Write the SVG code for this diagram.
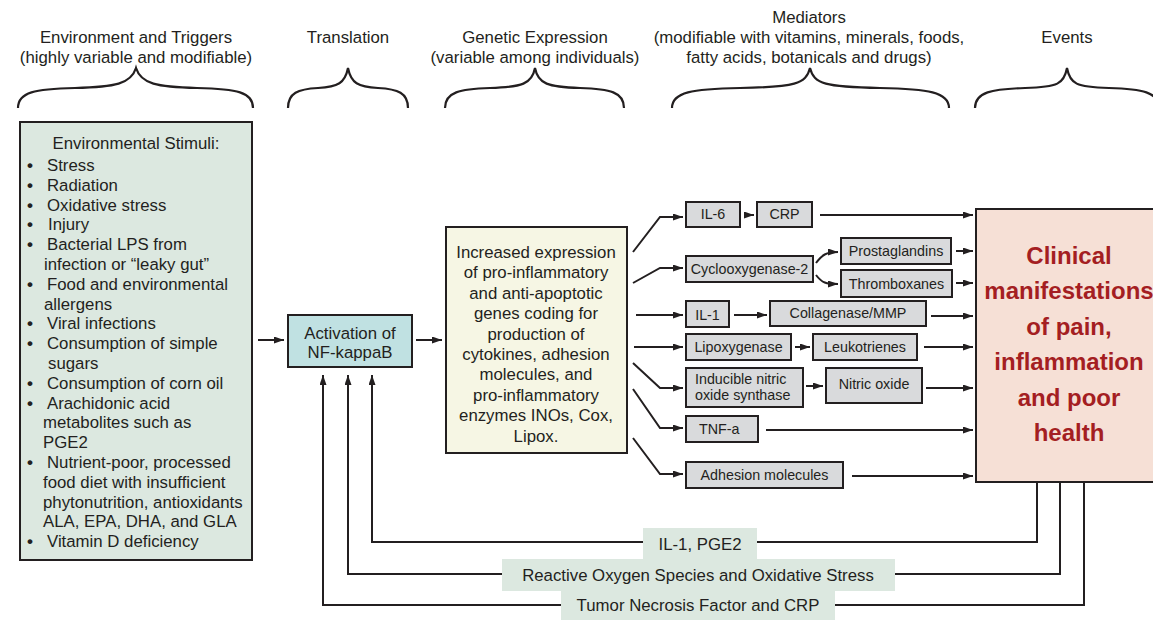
<svg xmlns="http://www.w3.org/2000/svg" width="1153" height="620" viewBox="0 0 1153 620">
<defs>
<style>
text{font-family:"Liberation Sans",Arial,sans-serif;fill:#231f20}
.h{font-size:16.8px;text-anchor:middle}
.t{font-size:16.8px}
.b{font-weight:bold;font-size:17px}
.c{font-size:16.8px;text-anchor:middle}
.m{font-size:14.3px}
.mc{font-size:14.3px;text-anchor:middle}
.red{font-size:24px;font-weight:bold;fill:#a41e22;text-anchor:middle}
.box{stroke:#231f20;stroke-width:2}
.med{fill:#d9dadc;stroke:#231f20;stroke-width:2}
.ln{fill:none;stroke:#231f20;stroke-width:2}
.br{fill:none;stroke:#231f20;stroke-width:2.2}
.lab{fill:#dce8e0}
</style>
<marker id="ah" viewBox="0 0 10 7" refX="10" refY="3.5" markerWidth="11" markerHeight="7" orient="auto" markerUnits="userSpaceOnUse"><path d="M0,0 L10,3.5 L0,7 z" fill="#231f20"/></marker>
</defs>

<g id="headers">
<text class="h" x="136" y="43">Environment and Triggers</text>
<text class="h" x="136" y="63">(highly variable and modifiable)</text>
<text class="h" x="348" y="43">Translation</text>
<text class="h" x="535" y="43">Genetic Expression</text>
<text class="h" x="535" y="63">(variable among individuals)</text>
<text class="h" x="809" y="23">Mediators</text>
<text class="h" x="809" y="43">(modifiable with vitamins, minerals, foods,</text>
<text class="h" x="809" y="63">fatty acids, botanicals and drugs)</text>
<text class="h" x="1067" y="43">Events</text>
</g>

<g id="braces">
<path class="br" d="M18,108 C18,92 35,89 75,88 C115,87 131,84 136,68 C141,84 157,87 197,88 C237,89 253,92 253,108"/>
<path class="br" d="M288,108 C288,93 298,89 318,88 C338,87 345,83 348,68 C351,83 358,87 378,88 C398,89 408,93 408,108"/>
<path class="br" d="M445,108 C445,92 460,89 490,88 C522,87 532,84 535,68 C538,84 548,87 580,88 C610,89 624,92 624,108"/>
<path class="br" d="M672,108 C672,92 692,89 740,88 C795,87 806,84 810,68 C814,84 825,87 880,88 C928,89 949,92 949,108"/>
<path class="br" d="M975,108 C975,92 992,89 1025,88 C1058,87 1064,84 1067,68 C1070,84 1076,87 1109,88 C1142,89 1159,92 1159,108"/>
</g>

<g id="env">
<rect class="box" x="20" y="122" width="232" height="438" fill="#dce8e0"/>
<text class="c" x="136" y="149">Environmental Stimuli:</text>
<g class="t">
<text class="b" x="27" y="171">•</text><text x="47" y="171">Stress</text>
<text class="b" x="27" y="190.8">•</text><text x="47" y="190.8">Radiation</text>
<text class="b" x="27" y="210.6">•</text><text x="47" y="210.6">Oxidative stress</text>
<text class="b" x="27" y="230.4">•</text><text x="48" y="230.4">Injury</text>
<text class="b" x="27" y="250.2">•</text><text x="47" y="250.2">Bacterial LPS from</text>
<text x="44" y="270">infection or “leaky gut”</text>
<text class="b" x="27" y="289.8">•</text><text x="47" y="289.8">Food and environmental</text>
<text x="44" y="309.6">allergens</text>
<text class="b" x="27" y="329.4">•</text><text x="47" y="329.4">Viral infections</text>
<text class="b" x="27" y="349.2">•</text><text x="47" y="349.2">Consumption of simple</text>
<text x="48" y="369">sugars</text>
<text class="b" x="27" y="388.8">•</text><text x="47" y="388.8">Consumption of corn oil</text>
<text class="b" x="27" y="408.6">•</text><text x="47" y="408.6">Arachidonic acid</text>
<text x="43" y="428.4">metabolites such as</text>
<text x="43" y="448.2">PGE2</text>
<text class="b" x="27" y="468">•</text><text x="47" y="468">Nutrient-poor, processed</text>
<text x="43" y="487.8">food diet with insufficient</text>
<text x="43" y="507.6">phytonutrition, antioxidants</text>
<text x="43" y="527.4">ALA, EPA, DHA, and GLA</text>
<text class="b" x="27" y="547.2">•</text><text x="47" y="547.2">Vitamin D deficiency</text>
</g>
</g>

<g id="nfkb">
<rect class="box" x="288" y="315" width="124" height="52" fill="#c0e1e2"/>
<text class="c" x="350" y="339">Activation of</text>
<text class="c" x="350" y="358">NF-kappaB</text>
</g>

<g id="genes">
<rect class="box" x="446" y="227" width="181" height="226" fill="#f6f6e4"/>
<text class="c" x="536" y="258">Increased expression</text>
<text class="c" x="536" y="278.4">of pro-inflammatory</text>
<text class="c" x="536" y="298.8">and anti-apoptotic</text>
<text class="c" x="536" y="319.2">genes coding for</text>
<text class="c" x="536" y="339.6">production of</text>
<text class="c" x="536" y="360">cytokines, adhesion</text>
<text class="c" x="536" y="380.4">molecules, and</text>
<text class="c" x="536" y="400.8">pro-inflammatory</text>
<text class="c" x="536" y="421.2">enzymes INOs, Cox,</text>
<text class="c" x="536" y="441.6">Lipox.</text>
</g>

<g id="il6"><rect class="med" x="686" y="202" width="54" height="25"/><text class="mc" x="713" y="219">IL-6</text></g>
<g id="crp"><rect class="med" x="757" y="202" width="55" height="25"/><text class="mc" x="784.5" y="219">CRP</text></g>
<g id="cox2"><rect class="med" x="686" y="256" width="127" height="26"/><text class="mc" x="749.5" y="274">Cyclooxygenase-2</text></g>
<g id="prost"><rect class="med" x="841" y="238" width="110" height="26"/><text class="mc" x="896" y="256">Prostaglandins</text></g>
<g id="thromb"><rect class="med" x="841" y="270" width="111" height="27"/><text class="mc" x="896.5" y="289">Thromboxanes</text></g>
<g id="il1"><rect class="med" x="686" y="301" width="43" height="26"/><text class="mc" x="707.5" y="320">IL-1</text></g>
<g id="collag"><rect class="med" x="770" y="301" width="156" height="25"/><text class="mc" x="848" y="318">Collagenase/MMP</text></g>
<g id="lipox"><rect class="med" x="686" y="334" width="105" height="26"/><text class="mc" x="738.5" y="352">Lipoxygenase</text></g>
<g id="leuko"><rect class="med" x="813" y="334" width="104" height="26"/><text class="mc" x="865" y="352">Leukotrienes</text></g>
<g id="inos"><rect class="med" x="686" y="368" width="117" height="39"/><text class="m" x="695" y="384">Inducible nitric</text><text class="m" x="695" y="400">oxide synthase</text></g>
<g id="no"><rect class="med" x="826" y="368" width="96" height="35"/><text class="mc" x="874" y="389">Nitric oxide</text></g>
<g id="tnfa"><rect class="med" x="686" y="416" width="72" height="26"/><text class="m" x="699" y="434">TNF-a</text></g>
<g id="adhesion"><rect class="med" x="686" y="462" width="157" height="26"/><text class="mc" x="764.5" y="480">Adhesion molecules</text></g>

<g id="clinical">
<rect class="box" x="976" y="209" width="200" height="273" fill="#f6e0d6"/>
<text class="red" x="1069" y="263.5">Clinical</text>
<text class="red" x="1069" y="299">manifestations</text>
<text class="red" x="1069" y="334.5">of pain,</text>
<text class="red" x="1069" y="370">inflammation</text>
<text class="red" x="1069" y="405.5">and poor</text>
<text class="red" x="1069" y="441">health</text>
</g>

<g id="connectors">
<line class="ln" x1="258" y1="340" x2="284" y2="340" marker-end="url(#ah)"/>
<line class="ln" x1="416" y1="340" x2="442" y2="340" marker-end="url(#ah)"/>
<polyline class="ln" points="633,252 660,217 683,217" marker-end="url(#ah)"/>
<polyline class="ln" points="633,283 660,268 683,268" marker-end="url(#ah)"/>
<line class="ln" x1="636" y1="315" x2="683" y2="315" marker-end="url(#ah)"/>
<line class="ln" x1="634" y1="347" x2="683" y2="347" marker-end="url(#ah)"/>
<polyline class="ln" points="633,363 660,388 683,388" marker-end="url(#ah)"/>
<polyline class="ln" points="633,389 660,428 683,428" marker-end="url(#ah)"/>
<polyline class="ln" points="633,438 660,474 683,474" marker-end="url(#ah)"/>
<line class="ln" x1="745" y1="215" x2="754" y2="215" marker-end="url(#ah)"/>
<line class="ln" x1="820" y1="215" x2="973" y2="215" marker-end="url(#ah)"/>
<path class="ln" d="M816,263 C822,255 826,252 838,252" marker-end="url(#ah)"/>
<path class="ln" d="M816,275 C822,283 826,284 838,284" marker-end="url(#ah)"/>
<line class="ln" x1="956" y1="251" x2="973" y2="251" marker-end="url(#ah)"/>
<line class="ln" x1="956" y1="283" x2="973" y2="283" marker-end="url(#ah)"/>
<line class="ln" x1="734" y1="315" x2="767" y2="315" marker-end="url(#ah)"/>
<line class="ln" x1="931" y1="316" x2="973" y2="316" marker-end="url(#ah)"/>
<line class="ln" x1="795" y1="347" x2="810" y2="347" marker-end="url(#ah)"/>
<line class="ln" x1="924" y1="347" x2="973" y2="347" marker-end="url(#ah)"/>
<line class="ln" x1="806" y1="386" x2="823" y2="386" marker-end="url(#ah)"/>
<line class="ln" x1="926" y1="388" x2="973" y2="388" marker-end="url(#ah)"/>
<line class="ln" x1="766" y1="430" x2="973" y2="430" marker-end="url(#ah)"/>
<line class="ln" x1="852" y1="476" x2="973" y2="476" marker-end="url(#ah)"/>
<polyline class="ln" points="1037,482 1037,542 372,542 372,375" marker-end="url(#ah)"/>
<polyline class="ln" points="1060,482 1060,574 348,574 348,375" marker-end="url(#ah)"/>
<polyline class="ln" points="1084,482 1084,605 323,605 323,375" marker-end="url(#ah)"/>
</g>

<g id="feedback-labels">
<rect class="lab" x="643" y="528" width="114" height="31"/>
<text class="c" x="700" y="550">IL-1, PGE2</text>
<rect class="lab" x="502" y="559" width="393" height="32"/>
<text class="c" x="698" y="581">Reactive Oxygen Species and Oxidative Stress</text>
<rect class="lab" x="561" y="591" width="274" height="29"/>
<text class="c" x="698" y="611">Tumor Necrosis Factor and CRP</text>
</g>
</svg>
